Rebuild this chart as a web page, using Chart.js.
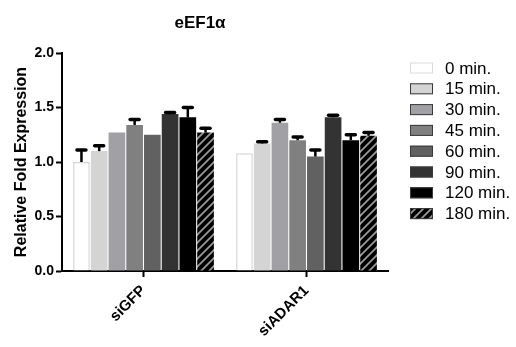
<!DOCTYPE html>
<html>
<head>
<meta charset="utf-8">
<script src="https://cdn.jsdelivr.net/npm/chart.js@4"></script>
<style>
  html, body { margin: 0; padding: 0; background: #fff; }
  #wrap { width: 516px; height: 347px; position: relative; }
</style>
</head>
<body>
<div id="wrap"><canvas id="eefChart"></canvas></div>
<script>
const groups = ['siGFP', 'siADAR1'];
const timeLabels = ['0 min.', '15 min.', '30 min.', '45 min.', '60 min.', '90 min.', '120 min.', '180 min.'];

// mean fold expression, one value per time point
const siGFP = [1.00, 1.10, 1.27, 1.34, 1.25, 1.44, 1.41, 1.27];
const siADAR1 = [1.08, 1.17, 1.36, 1.20, 1.05, 1.41, 1.20, 1.24];

// upper error (SEM) per time point
const siGFPErr = [0.11, 0.05, 0, 0.05, 0, 0.015, 0.09, 0.04];
const siADAR1Err = [0, 0.015, 0.03, 0.03, 0.06, 0.02, 0.05, 0.03];

const yTicks = [0.0, 0.5, 1.0, 1.5, 2.0];

const fills = ['#ffffff', '#d4d4d4', '#a1a1a5', '#808080', '#616161', '#333333', '#000000', null];
const FONT = '"Liberation Sans", Arial, sans-serif';

// hatched fill for 180 min.
const hatch = () => {
  const c = document.createElement('canvas');
  c.width = 8;
  c.height = 8;
  const g = c.getContext('2d');
  g.fillStyle = '#000';
  g.fillRect(0, 0, 8, 8);
  g.strokeStyle = '#999999';
  g.lineWidth = 1.8;
  g.beginPath();
  g.moveTo(-1, 9);
  g.lineTo(9, -1);
  g.moveTo(-1, 1);
  g.lineTo(1, -1);
  g.moveTo(7, 9);
  g.lineTo(9, 7);
  g.stroke();
  return g.createPattern(c, 'repeat');
};

const hatchFill = hatch();

const datasets = timeLabels.map((label, i) => ({
  label: label,
  data: [siGFP[i], siADAR1[i]],
  errors: [siGFPErr[i], siADAR1Err[i]],
  backgroundColor: fills[i] || hatchFill,
  borderColor: i === 0 ? '#d6d6d6' : (fills[i] || '#000'),
  borderWidth: i === 0 ? 1.5 : 0,
  barPercentage: 0.94,
  categoryPercentage: 0.87,
}));

const errorBars = {
  id: 'errorBars',
  afterDatasetsDraw(chart) {
    const ctx = chart.ctx;
    const y = chart.scales.y;
    ctx.save();
    ctx.strokeStyle = '#000';
    chart.data.datasets.forEach((ds, di) => {
      const meta = chart.getDatasetMeta(di);
      meta.data.forEach((bar, j) => {
        const err = ds.errors[j];
        if (!err) return;
        const top = y.getPixelForValue(ds.data[j] + err);
        ctx.lineWidth = 2.5;
        ctx.lineCap = 'butt';
        ctx.beginPath();
        ctx.moveTo(bar.x, bar.y);
        ctx.lineTo(bar.x, top);
        ctx.stroke();
        ctx.lineWidth = 3.5;
        ctx.lineCap = 'round';
        ctx.beginPath();
        ctx.moveTo(bar.x - 4.5, top);
        ctx.lineTo(bar.x + 4.5, top);
        ctx.stroke();
      });
    });
    ctx.restore();
  },
};

// title centred over graph incl. the y axis title, legend drawn to the right
const titleAndLegend = {
  id: 'titleAndLegend',
  afterDraw(chart) {
    const ctx = chart.ctx;
    const area = chart.chartArea;
    ctx.save();
    ctx.font = 'bold 17px ' + FONT;
    ctx.fillStyle = '#000';
    ctx.textAlign = 'center';
    ctx.textBaseline = 'middle';
    ctx.fillText('eEF1\u03b1', (area.right + 12) / 2, 23);

    const bx = area.right + 22;
    ctx.font = '17px ' + FONT;
    ctx.textAlign = 'left';
    chart.data.datasets.forEach((ds, i) => {
      const cy = area.top + 15 + i * 20.8;
      ctx.fillStyle = ds.backgroundColor;
      ctx.fillRect(bx, cy - 5.5, 23, 11);
      ctx.strokeStyle = i === 0 ? '#dcdcdc' : '#3a3a3a';
      ctx.lineWidth = 1;
      ctx.strokeRect(bx + 0.5, cy - 5, 22, 10);
      ctx.fillStyle = '#000';
      ctx.fillText(ds.label, bx + 35, cy + 1);
    });
    ctx.restore();
  },
};

const ctx = document.getElementById('eefChart').getContext('2d');
new Chart(ctx, {
  type: 'bar',
  data: {
    labels: groups,
    datasets: datasets,
  },
  plugins: [errorBars, titleAndLegend],
  options: {
    responsive: true,
    maintainAspectRatio: false,
    animation: false,
    layout: {
      padding: { top: 53, left: 12, right: 128, bottom: 2 },
    },
    plugins: {
      legend: {
        display: false,
      },
      tooltip: {
        enabled: false,
      },
    },
    scales: {
      y: {
        min: 0,
        max: 2,
        afterBuildTicks(axis) {
          axis.ticks = yTicks.map((v) => ({ value: v }));
        },
        afterFit(scale) {
          scale.width = 50;
        },
        border: {
          display: true,
          color: '#000',
          width: 2,
        },
        grid: {
          drawOnChartArea: false,
          drawTicks: true,
          tickLength: 6,
          tickWidth: 2,
          color: '#000',
        },
        ticks: {
          color: '#000',
          padding: 2,
          font: { family: FONT, size: 14, weight: 'bold' },
          callback: function (value) {
            return value.toFixed(1);
          },
        },
        title: {
          display: true,
          text: 'Relative Fold Expression',
          color: '#000',
          padding: { top: 0, bottom: 0 },
          font: { family: FONT, size: 16, weight: 'bold' },
        },
      },
      x: {
        afterFit(scale) {
          scale.height = 74;
        },
        border: {
          display: true,
          color: '#000',
          width: 2,
        },
        grid: {
          offset: false,
          drawOnChartArea: false,
          drawTicks: true,
          tickLength: 6,
          tickWidth: 2,
          color: '#000',
        },
        ticks: {
          color: '#000',
          minRotation: 45,
          maxRotation: 45,
          padding: 5,
          font: { family: FONT, size: 15, weight: 'bold' },
        },
      },
    },
  },
});
</script>
</body>
</html>
